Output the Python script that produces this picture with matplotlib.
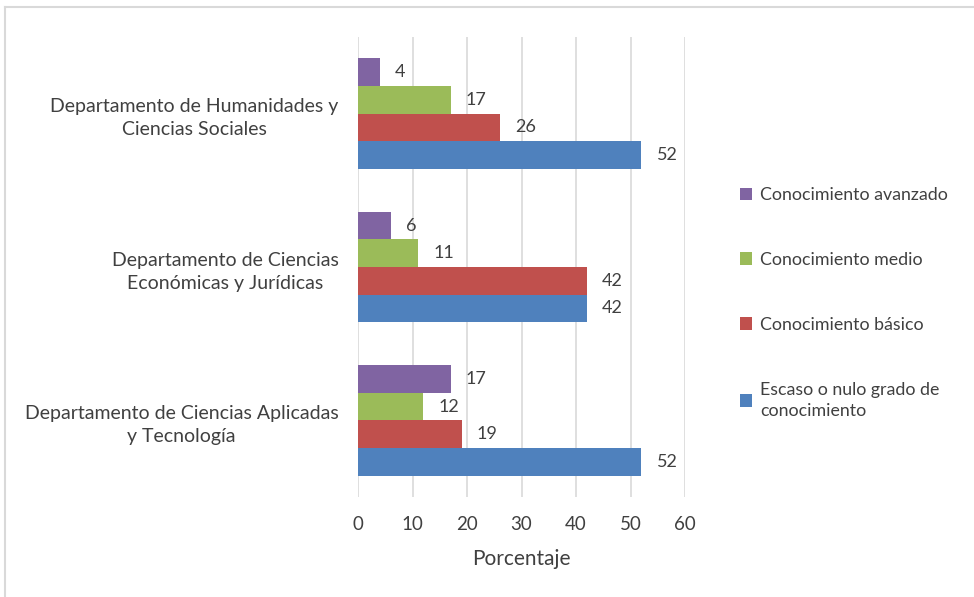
import matplotlib
matplotlib.use("Agg")
import matplotlib.pyplot as plt
import numpy as np

plt.rcParams['font.family'] = ['Lato', 'DejaVu Sans']

categories = ["Departamento de Ciencias Aplicadas\ny Tecnología",
              "Departamento de Ciencias\nEconómicas y Jurídicas",
              "Departamento de Humanidades y\nCiencias Sociales"]
series_names = ["Escaso o nulo grado de\nconocimiento", "Conocimiento básico",
                "Conocimiento medio", "Conocimiento avanzado"]
escaso = [52, 42, 52]
basico = [19, 42, 26]
medio = [12, 11, 17]
avanzado = [17, 6, 4]
xticks = [0, 10, 20, 30, 40, 50, 60]

colors = ["#4F81BD", "#C0504D", "#9BBB59", "#8064A2"]
text_color = "#404040"

fig = plt.figure(figsize=(9.74, 5.97), dpi=100)
ax = fig.add_axes([358/974, 1 - 497/597, (685 - 358)/974, (497 - 37)/597])

y = np.arange(len(categories))
h = 0.18
values = [escaso, basico, medio, avanzado]
handles = []
for i, (vals, name, c) in enumerate(zip(values, series_names, colors)):
    pos = y + (i - 1.5) * h
    bars = ax.barh(pos, vals, height=h, color=c, label=name, zorder=3)
    handles.append(bars)
    ax.bar_label(bars, labels=[str(v) for v in vals], padding=11,
                 fontsize=13, color=text_color)

ax.set_xlim(0, 60)
ax.set_ylim(-0.5, len(categories) - 0.5)
ax.set_xticks(xticks)
ax.set_xticklabels([str(t) for t in xticks])
ax.set_yticks(y)
ax.set_yticklabels(categories, ha='right', multialignment='center',
                   fontsize=14, color=text_color, linespacing=1.45)
ax.tick_params(axis='y', length=0, pad=14)
ax.tick_params(axis='x', length=0, pad=14, labelsize=13.5, labelcolor=text_color)
ax.grid(axis='x', color="#D9D9D9", linewidth=1.2, zorder=0)
for s in ax.spines.values():
    s.set_visible(False)
ax.set_xlabel("Porcentaje", fontsize=15, color=text_color, labelpad=11)

leg = fig.legend(handles[::-1], series_names[::-1], loc='upper left',
                 bbox_to_anchor=(724/974, 1 - 171/597), frameon=False,
                 fontsize=12.8, labelspacing=2.75, handlelength=0.7,
                 handleheight=0.7, handletextpad=0.45, labelcolor=text_color)
for t in leg.get_texts():
    t.set_linespacing(1.4)

# outer chart frame
fig.add_artist(plt.Line2D([5/974, 1.0], [1 - 7/597, 1 - 7/597],
                          transform=fig.transFigure, color="#D9D9D9", lw=1.5))
fig.add_artist(plt.Line2D([5/974, 5/974], [0, 1 - 7/597],
                          transform=fig.transFigure, color="#D9D9D9", lw=1.5))

fig.savefig("out.png", dpi=100)
